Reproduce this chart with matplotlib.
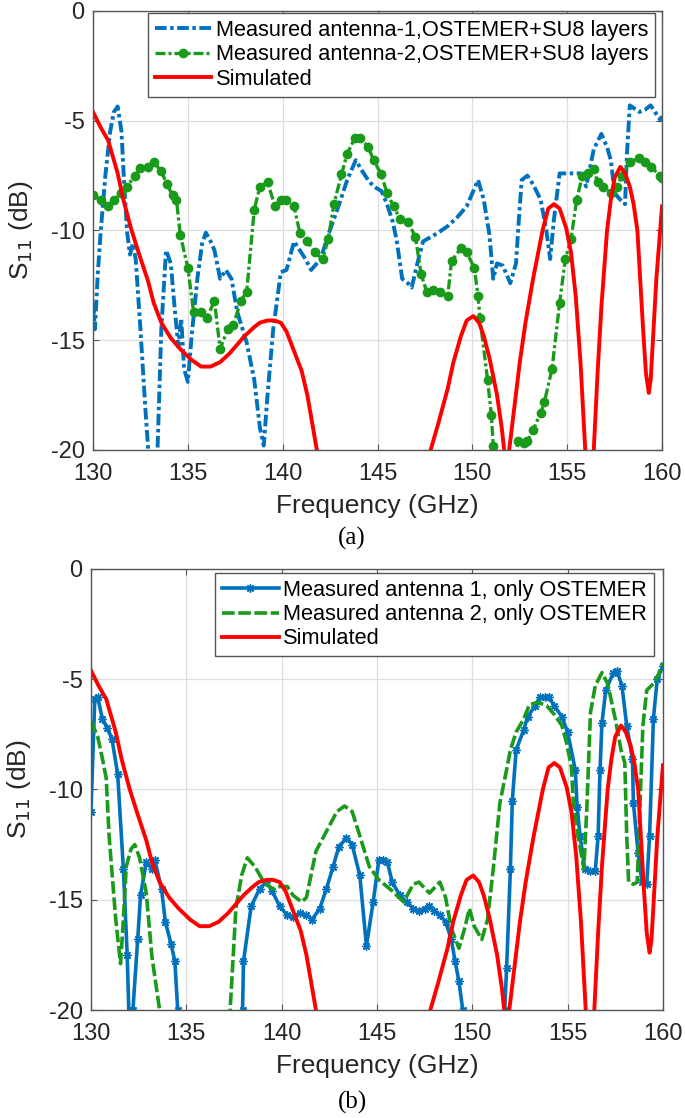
import matplotlib
matplotlib.use('Agg')
import matplotlib.pyplot as plt

plt.rcParams['font.family'] = ['Liberation Sans', 'DejaVu Sans']
plt.rcParams['axes.unicode_minus'] = False

# simulated S11, same curve in both panels
sim_f = [130.0, 130.4, 130.8, 131.3, 131.6, 132.0, 132.4, 132.9, 133.2, 133.6,
         134.1, 134.6, 135.2, 135.7, 136.2, 136.7, 137.2, 137.8, 138.0, 138.5,
         138.8, 139.2, 139.55, 139.9, 140.2, 140.6, 141.0, 141.3, 141.8, 142.5,
         144.5, 146.5, 147.3, 147.8, 148.2, 148.7, 149.0, 149.4, 149.7, 150.05,
         150.35, 150.6, 150.9, 151.3, 151.55, 151.8, 152.15, 152.5, 152.8, 153.2,
         153.7, 154.0, 154.3, 154.6, 154.95, 155.2, 155.45, 155.7, 155.95, 156.15,
         156.4, 156.6, 156.8, 157.1, 157.3, 157.5, 157.8, 158.05, 158.3, 158.5,
         158.7, 159.0, 159.15, 159.3, 159.4, 159.5, 159.7, 159.9, 160.0]
sim_s = [-4.6, -5.3, -5.9, -7.4, -8.6, -9.9, -11.0, -12.3, -13.3, -14.2,
         -14.9, -15.4, -15.9, -16.2, -16.2, -16.0, -15.6, -15.0, -14.8, -14.4,
         -14.2, -14.1, -14.1, -14.2, -14.6, -15.5, -16.4, -17.5, -20.0, -23.5,
         -28.0, -26.0, -22.0, -20.0, -18.8, -17.2, -16.0, -14.8, -14.1, -13.9,
         -14.2, -14.8, -15.8, -17.5, -19.0, -21.0, -18.5, -16.0, -14.2, -12.2,
         -10.0, -9.0, -8.8, -9.0, -9.9, -11.0, -13.0, -16.0, -20.0, -24.0,
         -20.0, -16.5, -13.5, -10.0, -8.6, -7.6, -7.1, -7.4, -8.0, -8.8,
         -10.0, -14.5, -16.5, -17.4, -16.8, -15.3, -12.2, -10.0, -8.9]

# (a) antenna-1, OSTEMER+SU8
blue_a_f = [130.0, 130.1, 130.25, 130.4, 130.65, 130.9, 131.1, 131.3, 131.5, 131.65,
            131.8, 131.95, 132.1, 132.25, 132.5, 132.75, 132.95, 133.2, 133.4, 133.6,
            133.85, 134.1, 134.3, 134.5, 134.65, 134.8, 135.0, 135.2, 135.5, 135.75,
            135.95, 136.2, 136.4, 136.7, 137.0, 137.3, 137.6, 138.1, 138.5, 138.8,
            139.0, 139.2, 139.5, 139.9, 140.2, 140.6, 140.9, 141.2, 141.5, 142.0,
            142.4, 142.9, 143.4, 143.85, 144.2, 144.5, 144.8, 145.2, 145.5, 145.8,
            146.0, 146.3, 146.6, 146.8, 147.1, 147.4, 147.8, 148.2, 148.7, 149.2,
            149.7, 150.0, 150.3, 150.6, 150.9, 151.1, 151.3, 151.6, 151.8, 152.0,
            152.3, 152.45, 152.6, 152.9, 153.2, 153.6, 153.9, 154.1, 154.3, 154.6,
            155.2, 155.7, 156.0, 156.4, 156.8, 157.1, 157.3, 157.5, 157.8, 158.05,
            158.15, 158.3, 158.8, 159.1, 159.4, 159.7, 159.9, 160.0]
blue_a_s = [-13.3, -14.5, -12.0, -10.1, -7.5, -5.5, -4.6, -4.35, -5.5, -8.0,
            -10.1, -11.1, -10.6, -11.3, -14.5, -18.0, -20.5, -22.0, -20.0, -14.5,
            -10.9, -11.5, -13.5, -15.3, -14.0, -16.3, -16.9, -14.8, -12.2, -10.6,
            -10.1, -10.5, -10.9, -12.2, -11.8, -12.2, -13.7, -15.1, -16.8, -19.0,
            -19.8, -17.5, -14.5, -11.9, -11.8, -10.5, -10.9, -11.3, -11.8, -11.3,
            -10.2, -9.0, -7.7, -6.8, -7.3, -7.7, -8.0, -8.2, -8.8, -9.6,
            -10.4, -12.2, -12.4, -12.6, -11.5, -10.5, -10.3, -10.1, -9.8, -9.4,
            -8.9, -8.3, -7.7, -8.6, -10.2, -12.2, -11.5, -11.6, -12.0, -12.4,
            -11.5, -9.5, -7.7, -7.5, -7.9, -8.6, -10.0, -11.3, -9.5, -7.4,
            -7.4, -7.4, -8.0, -6.3, -5.6, -6.2, -6.8, -8.3, -8.6, -8.8,
            -6.5, -4.3, -4.6, -4.5, -4.3, -4.7, -4.95, -4.8]

# (a) antenna-2, OSTEMER+SU8
green_a_f = [130.0, 130.4, 130.8, 131.1, 131.5, 131.8, 132.2, 132.5, 132.9, 133.2,
             133.6, 133.9, 134.2, 134.4, 134.6, 135.0, 135.3, 135.7, 136.0, 136.4,
             136.7, 137.1, 137.4, 137.8, 138.1, 138.5, 138.8, 139.2, 139.6, 139.9,
             140.2, 140.6, 140.9, 141.3, 141.7, 142.1, 142.4, 142.7, 143.1, 143.4,
             143.8, 144.1, 144.5, 144.8, 145.2, 145.5, 145.85, 146.2, 146.6, 147.0,
             147.3, 147.6, 147.9, 148.3, 148.7, 148.9, 149.4, 149.7, 150.1, 150.3,
             150.4, 150.8, 151.0, 151.1, 151.4, 152.0, 152.4, 152.7, 152.9, 153.2,
             153.6, 153.8, 154.2, 154.6, 154.9, 155.2, 155.5, 155.8, 156.1, 156.4,
             156.6, 156.9, 157.3, 157.6, 157.9, 158.3, 158.8, 159.1, 159.4, 159.9, 160.0]
green_a_s = [-8.4, -8.6, -8.9, -8.6, -8.3, -8.0, -7.5, -7.15, -7.1, -6.9,
             -7.3, -7.9, -8.4, -8.6, -10.2, -11.7, -13.7, -13.7, -14.0, -13.2,
             -15.4, -14.5, -14.3, -13.2, -12.8, -9.05, -8.0, -7.8, -8.9, -8.6,
             -8.6, -8.9, -10.1, -10.5, -11.0, -11.3, -10.4, -8.8, -7.45, -6.5,
             -5.8, -5.8, -6.2, -6.8, -7.45, -8.3, -8.9, -9.5, -9.6, -10.3,
             -12.0, -12.8, -12.7, -12.8, -13.0, -11.4, -10.8, -11.0, -11.7, -13.0,
             -14.0, -16.8, -18.4, -19.8, -22.0, -22.0, -19.6, -19.7, -19.6, -19.1,
             -18.3, -17.8, -16.3, -13.3, -11.3, -10.4, -8.6, -7.5, -7.4, -7.2,
             -7.8, -8.0, -8.3, -8.0, -7.5, -6.9, -6.7, -6.9, -7.1, -7.5, -7.6]

# (b) antenna 1, only OSTEMER
blue_b_f = [130.0, 130.2, 130.35, 130.6, 130.85, 131.1, 131.4, 131.7, 131.9, 132.0,
            132.1, 132.2, 132.45, 132.6, 132.9, 133.2, 133.35, 133.7, 133.9, 134.2,
            134.4, 134.55, 134.8, 137.7, 137.95, 138.0, 138.4, 138.85, 139.2, 139.5,
            139.9, 140.3, 140.6, 140.95, 141.3, 141.6, 142.0, 142.35, 142.7, 143.0,
            143.4, 143.7, 144.1, 144.45, 144.8, 145.1, 145.3, 145.55, 145.8, 146.2,
            146.55, 146.9, 147.2, 147.5, 147.75, 148.0, 148.3, 148.6, 148.9, 149.1,
            149.3, 149.5, 149.7, 151.5, 151.7, 151.8, 152.0, 152.1, 152.3, 152.7,
            152.9, 153.3, 153.55, 153.8, 154.0, 154.3, 154.7, 155.0, 155.4, 155.5,
            155.65, 155.9, 156.2, 156.45, 156.6, 156.7, 156.8, 157.0, 157.4, 157.6,
            157.85, 158.1, 158.4, 158.45, 158.7, 158.9, 159.15, 159.3, 159.5, 159.7, 160.0]
blue_b_s = [-11.0, -5.9, -5.8, -6.8, -7.2, -7.7, -9.3, -13.6, -17.5, -20.5,
            -21.0, -20.0, -16.8, -14.8, -13.3, -13.6, -13.2, -14.5, -16.0, -17.0,
            -17.8, -20.0, -23.0, -23.0, -20.0, -17.8, -15.3, -14.5, -14.2, -14.6,
            -15.3, -15.7, -15.8, -15.6, -15.7, -15.9, -15.4, -14.5, -13.5, -12.6,
            -12.2, -12.5, -13.9, -17.1, -15.1, -13.2, -13.2, -13.3, -14.2, -14.8,
            -15.1, -15.4, -15.5, -15.4, -15.3, -15.5, -15.7, -16.0, -16.8, -17.8,
            -18.7, -20.0, -23.0, -23.0, -20.0, -18.1, -13.6, -10.5, -8.2, -7.3,
            -6.7, -6.2, -5.8, -5.8, -5.8, -6.2, -6.7, -7.4, -9.1, -10.8,
            -12.1, -13.6, -13.7, -13.7, -12.1, -9.1, -7.0, -5.5, -4.7, -4.65,
            -5.3, -7.1, -8.6, -10.6, -12.9, -14.2, -14.3, -12.1, -6.8, -5.0, -4.4]

# (b) antenna 2, only OSTEMER
green_b_f = [130.0, 130.35, 130.6, 130.8, 130.95, 131.3, 131.55, 131.7, 131.85, 132.1,
             132.3, 132.55, 132.9, 133.2, 133.6, 133.9, 137.0, 137.3, 137.6, 137.9,
             138.2, 138.6, 139.0, 139.5, 139.9, 140.3, 140.6, 141.05, 141.3, 141.8,
             142.35, 142.9, 143.3, 143.7, 144.1, 144.6, 145.1, 145.8, 146.4, 146.9,
             147.2, 147.75, 148.3, 148.6, 148.9, 149.3, 149.6, 149.85, 150.1, 150.5,
             150.8, 151.1, 151.45, 151.8, 152.0, 152.3, 152.7, 153.0, 153.45, 153.9,
             154.3, 154.7, 154.95, 155.2, 155.3, 155.55, 155.85, 156.0, 156.2, 156.45,
             156.8, 157.1, 157.5, 157.8, 158.0, 158.1, 158.2, 158.45, 158.65, 158.8,
             158.95, 159.15, 159.5, 159.75, 160.0]
green_b_s = [-6.9, -7.6, -8.6, -9.5, -12.1, -15.9, -17.9, -15.9, -13.5, -12.7,
             -12.5, -13.1, -14.7, -17.6, -20.0, -23.0, -23.0, -20.0, -15.4, -13.9,
             -13.1, -13.5, -14.1, -14.5, -14.4, -14.4, -14.8, -15.1, -14.9, -12.8,
             -11.9, -11.0, -10.75, -11.0, -12.1, -13.5, -14.1, -14.6, -15.1, -14.3,
             -14.2, -14.7, -14.2, -14.9, -16.3, -17.2, -16.3, -15.4, -16.2, -16.8,
             -15.9, -13.6, -10.6, -9.1, -8.2, -7.4, -6.8, -6.15, -6.05, -6.2,
             -6.6, -7.1, -7.9, -9.0, -10.6, -12.1, -13.6, -11.0, -6.5, -5.3,
             -4.7, -5.2, -6.8, -8.2, -8.8, -12.1, -14.2, -14.3, -14.2, -10.6,
             -7.1, -5.5, -5.2, -4.8, -4.25]

labels_a = ['Measured antenna-1,OSTEMER+SU8 layers',
            'Measured antenna-2,OSTEMER+SU8 layers',
            'Simulated']
labels_b = ['Measured antenna 1, only OSTEMER',
            'Measured antenna 2, only OSTEMER',
            'Simulated']

blue = '#0072BD'
green = '#1A9A1A'
red = '#FF0000'


def style_axes(ax):
    ax.set_xlim(130, 160)
    ax.set_ylim(-20, 0)
    ax.set_xticks([130, 135, 140, 145, 150, 155, 160])
    ax.set_yticks([-20, -15, -10, -5, 0])
    ax.grid(True, color='#dedede', linewidth=0.9)
    ax.set_axisbelow(True)
    ax.tick_params(direction='in', length=4, width=0.8, top=True, right=True,
                   labelsize=17, colors='#262626', color='#555555')
    ax.tick_params(axis='x', pad=9.5)
    ax.tick_params(axis='y', pad=6)
    for sp in ax.spines.values():
        sp.set_color('#555555')
        sp.set_linewidth(1.0)
    ax.set_xlabel('Frequency (GHz)', fontsize=19, color='#262626', labelpad=6)
    ax.set_ylabel('S$_{11}$ (dB)', fontsize=19, color='#262626', labelpad=11)


def add_legend(ax, anchor):
    leg = ax.legend(loc='upper right', bbox_to_anchor=anchor, fontsize=15.7,
                    fancybox=False, framealpha=1, edgecolor='#555555', borderaxespad=0,
                    handlelength=2.6, handletextpad=0.2, labelspacing=0.15, borderpad=0.32)
    leg.get_frame().set_linewidth(1.0)


fig = plt.figure(figsize=(6.85, 11.18), dpi=100)

ax1 = fig.add_axes([0.1358, 0.5975, 0.8307, 0.3927])
ax1.plot(blue_a_f, blue_a_s, color=blue, linewidth=2.8,
         linestyle=(0, (3, 0.9, 0.9, 0.9)), label=labels_a[0])
ax1.plot(green_a_f, green_a_s, color=green, linewidth=2.4,
         linestyle=(0, (3, 0.9, 0.9, 0.9)), marker='o', markersize=6,
         label=labels_a[1])
ax1.plot(sim_f, sim_s, color=red, linewidth=2.8, label=labels_a[2])
style_axes(ax1)
add_legend(ax1, (0.988, 0.995))

ax2 = fig.add_axes([0.1328, 0.0966, 0.835, 0.3945])
ax2.plot(blue_b_f, blue_b_s, color=blue, linewidth=2.6, marker=(8, 2, 0),
         markersize=6, label=labels_b[0])
ax2.plot(green_b_f, green_b_s, color=green, linewidth=2.6,
         linestyle=(0, (3.5, 1.0)), label=labels_b[1])
ax2.plot(sim_f, sim_s, color=red, linewidth=2.8, label=labels_b[2])
style_axes(ax2)
add_legend(ax2, (0.984, 0.991))

fig.text(0.514, 0.518, '(a)', fontsize=18, family='Liberation Serif',
         ha='center', va='center')
fig.text(0.514, 0.014, '(b)', fontsize=18, family='Liberation Serif',
         ha='center', va='center')

fig.savefig('out.png', dpi=100)
